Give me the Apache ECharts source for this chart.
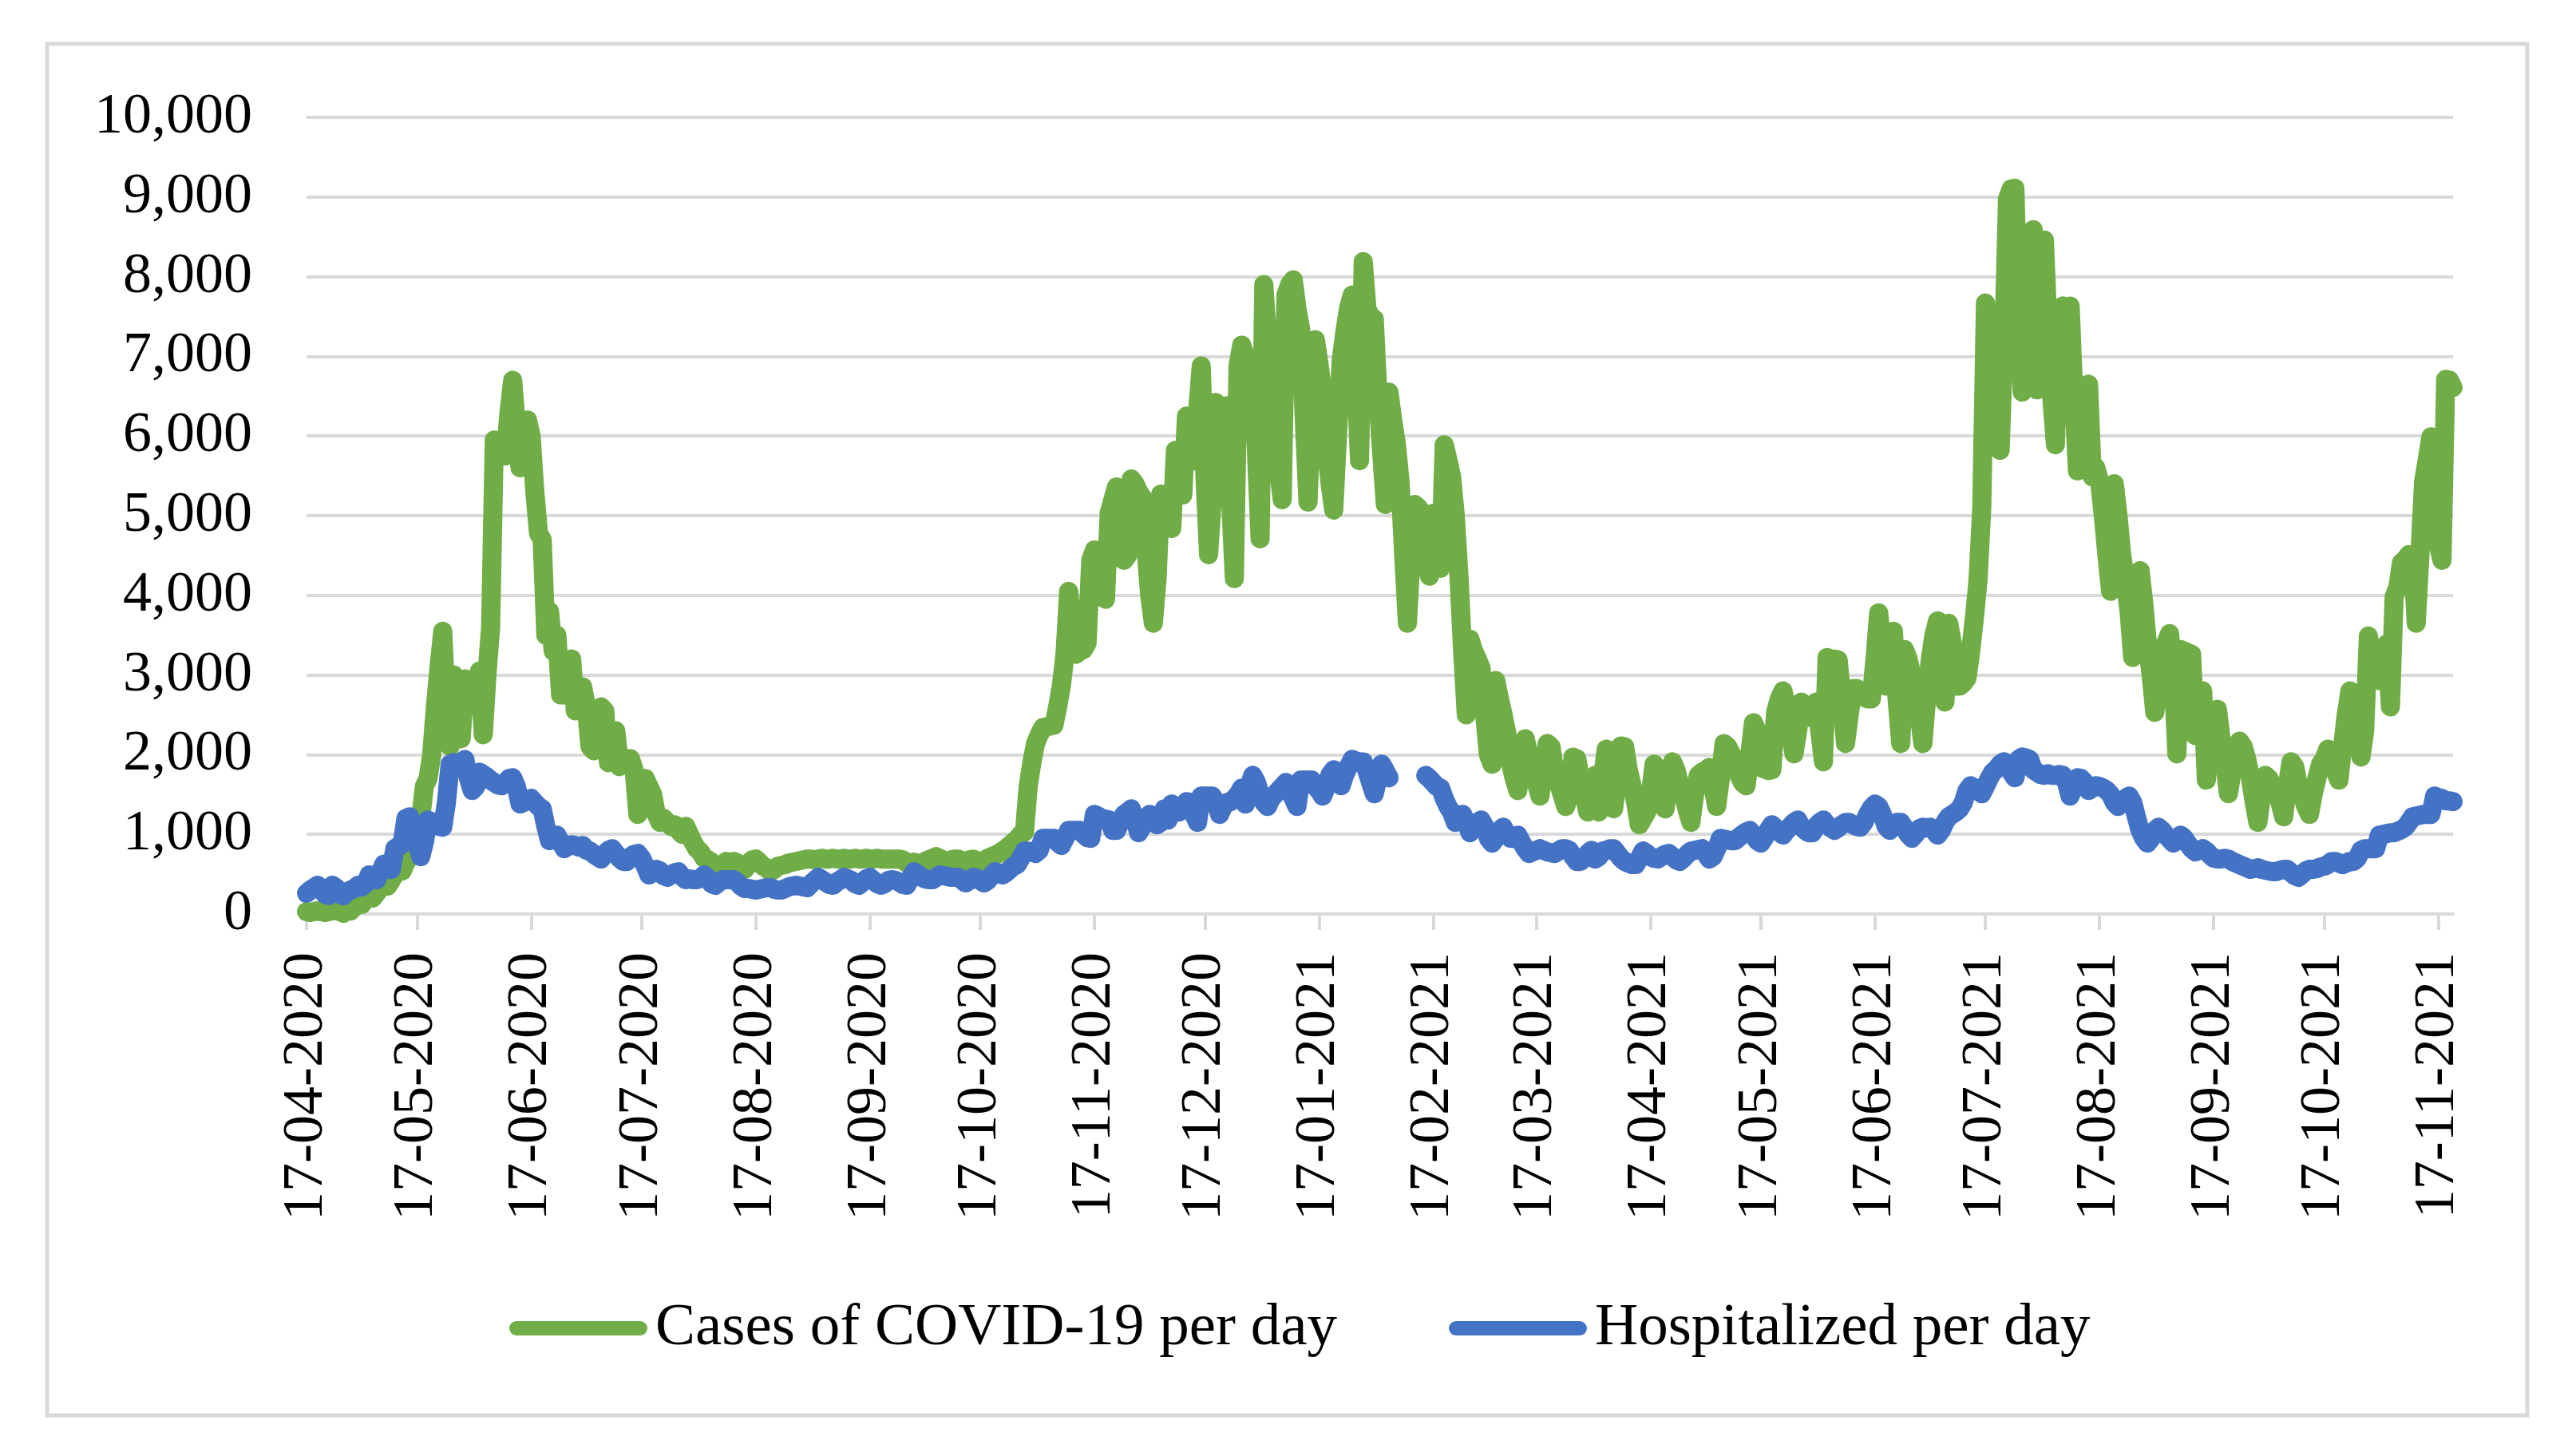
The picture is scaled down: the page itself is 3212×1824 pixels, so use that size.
<!DOCTYPE html>
<html>
<head>
<meta charset="utf-8">
<script src="https://cdn.jsdelivr.net/npm/echarts@6/dist/echarts.min.js"></script>
<style>
html,body{margin:0;padding:0;background:#fff;}
#chart{width:3212px;height:1824px;}
</style>
</head>
<body>
<div id="chart"></div>
<script>
// Series names
const seriesNames = ['Cases of COVID-19 per day', 'Hospitalized per day'];

// First day of the daily series (17-04-2020); one value per day
const startDate = [2020, 4, 17];

// X-axis tick labels (monthly, on the 17th)
const tickLabels = ['17-04-2020','17-05-2020','17-06-2020','17-07-2020','17-08-2020','17-09-2020','17-10-2020','17-11-2020','17-12-2020','17-01-2021','17-02-2021','17-03-2021','17-04-2021','17-05-2021','17-06-2021','17-07-2021','17-08-2021','17-09-2021','17-10-2021','17-11-2021'];

// Y-axis ticks
const yTicks = [0,1000,2000,3000,4000,5000,6000,7000,8000,9000,10000];

// Cases of COVID-19 per day
const casesPerDay = [
30,20,30,40,30,20,30,40,50,30,
10,60,40,90,150,120,180,
220,200,260,330,380,350,420,
500,560,540,650,720,800,1000,
1200,1600,1700,2000,2600,3100,3550,
2500,2100,3000,2600,2200,2950,2900,
2750,2600,3050,2250,3000,3600,5950,
5850,5800,5750,6300,6700,6100,5600,
5800,6200,6000,5300,4780,4700,3500,
3800,3300,3500,2750,2750,3050,3200,
2550,2700,2850,2600,2100,2050,2200,
2600,2550,1900,2250,2300,1850,1900,
1950,1950,1800,1250,1450,1700,1600,
1500,1250,1150,1200,1150,1100,1120,
1050,1000,1100,1000,900,820,780,
700,680,650,600,580,620,660,
650,660,
640,600,560,620,680,690,650,
600,580,530,560,600,610,620,
640,650,660,670,680,690,690,
680,690,700,690,690,700,690,
690,700,690,690,700,690,690,
700,690,690,700,690,690,690,
690,690,690,680,640,620,650,
640,630,660,680,700,720,700,
660,650,680,690,690,660,650,
680,690,670,660,660,700,720,
740,760,790,820,860,900,940,
1000,1030,1600,1900,2140,2250,2340,
2350,2360,2370,2600,2860,3260,4050,
3600,3260,3300,3320,3400,4440,4570,
4500,4300,3950,5030,5200,5360,5000,
4440,4500,5460,5400,5300,5230,4600,
4000,3650,4200,5270,5170,
5000,4840,5820,5500,5260,6250,5700,
5690,6300,6880,5500,4510,5200,6420,
5960,6200,6380,5200,4210,6880,7140,
7000,6950,6880,5800,4710,7900,7200,
6550,6000,5600,5200,7770,7900,7960,
7600,7340,6200,5170,6300,7210,6900,
6550,5900,5400,5070,6000,6940,7300,
7600,7770,6800,5690,8190,7600,7500,
7470,6500,5800,5140,6550,6200,5900,
5430,4500,3650,4500,5140,5100,5030,
4600,4240,5030,4700,4340,5890,5700,
5490,5000,4240,3300,2500,3450,3300,
3200,3090,2500,2000,1880,2930,2700,
2500,2270,1900,1700,1550,2000,2200,
2000,1800,1650,1480,1800,2140,2100,
1800,1650,1500,1350,1500,1970,1950,
1700,1500,1280,1500,1740,
1280,1700,2070,2040,1320,1700,2110,
2100,1810,1610,1400,1120,1200,1280,
1500,1880,1700,1500,1320,1700,1910,
1800,1610,1500,1300,1150,1500,1740,
1780,1800,1840,1600,1350,1700,2140,
2100,2010,1900,1750,1650,1610,2000,
2400,2300,1840,1820,1800,1810,2530,
2700,2800,2600,2300,2010,2300,2660,
2550,2470,2600,2660,2300,1910,3220,
3200,3200,3190,2700,2140,2500,2830,
2830,2800,2720,2700,2700,3200,3780,
3300,2860,3300,3550,2700,2140,3320,
3200,3000,2930,2500,2140,2700,3190,
3500,3680,3200,2660,3650,3400,2860,
2860,2900,2960,3300,3720,4200,5100,
7670,7400,6610,6000,5820,7200,8980,
9100,9110,7410,6550,7540,
8000,8590,6580,7500,8460,7340,6500,
5890,7600,7630,7600,7630,6500,5560,
6000,6300,6650,5490,5600,5430,5000,
4500,4050,5400,5000,4510,4200,3800,
3220,3800,4310,3900,3390,3000,2530,
2900,3300,3400,3520,3000,2010,3320,
3300,3280,3260,2240,2600,2800,1680,
2200,2400,2570,2200,1900,1510,1800,
2000,2170,2100,1940,1700,1400,1150,
1500,1740,1700,1600,1580,1400,1220,
1600,1910,1850,1610,1500,1350,1250,
1500,1700,1880,1950,2070,1900,1800,
1680,2100,2500,2800,2600,2340,1970,
2300,3490,3200,3000,2930,3200,3390,
2600,3980,4100,4410,4450,4510,4500,
3650,4500,5430,5700,5990,5000,4640,
4440,6710,6700,6610
];

// Hospitalized per day (null = no data)
const hospitalizedPerDay = [
260,300,330,360,300,250,230,
360,330,250,230,280,300,320,
360,340,380,490,450,430,520,
625,580,560,820,850,880,1200,
1220,1100,900,720,900,1180,1150,
1150,1100,1090,1400,1880,1900,1850,
1900,1940,1700,1550,1600,1780,1750,
1720,1680,1650,1620,1610,1650,1700,
1710,1600,1380,1400,1430,1450,1400,
1350,1320,1100,920,950,990,900,
820,850,870,860,840,860,800,
790,750,720,690,750,800,820,
760,700,660,660,720,750,760,
700,600,490,520,560,540,480,
460,490,520,530,470,430,440,
430,430,450,490,450,380,360,
400,430,430,430,430,400,350,
320,320,310,300,310,320,330,
330,310,300,300,320,340,350,
360,350,340,330,380,420,460,
430,400,370,360,400,430,460,
440,420,380,360,400,440,460,
420,380,360,380,420,430,420,
400,370,360,450,530,500,460,
440,430,430,460,490,480,470,
460,460,460,430,390,420,460,
450,420,390,420,480,530,510,
490,520,560,600,620,700,790,
790,780,760,800,950,950,950,
950,900,860,950,1050,1050,1050,
1050,1000,960,950,1250,1230,1200,
1190,1180,1050,1050,1150,1250,1280,
1320,1200,1020,1100,1200,1250,1180,
1120,1150,1320,1180,1380,1350,1280,
1350,1410,1400,1250,1150,1480,1480,
1480,1480,1400,1250,1350,1400,1410,
1450,1500,1580,1380,1600,1740,1650,
1500,1400,1350,1450,1500,1550,1600,
1650,1550,1450,1350,1680,1680,1680,
1680,1600,1550,1480,1600,1750,1810,
1750,1610,1750,1850,1940,1920,1910,
1910,1800,1650,1510,1700,1880,1800,
1710,
null,null,null,null,null,null,null,null,null,
1740,1700,1650,1600,1580,1450,1350,
1280,1150,1200,1250,1150,1020,1100,
1150,1180,1100,950,890,950,1050,
1090,1000,950,950,990,900,820,
760,780,800,820,800,780,770,
760,790,820,820,800,720,660,
660,700,760,800,690,720,790,
800,820,820,760,700,660,640,
620,620,700,790,760,720,700,
690,720,750,760,720,680,660,
700,750,790,800,810,820,760,
690,720,820,950,940,930,920,
920,960,1000,1030,1050,990,920,
890,960,1050,1120,1080,1030,990,
1050,1100,1150,1180,1100,1050,1020,
1020,1100,1150,1180,1120,1080,1050,
1080,1120,1150,1150,1120,1100,1090,
1150,1250,1330,1380,1350,1250,1100,
1050,1100,1150,1150,1080,1000,950,
1000,1070,1090,1080,1090,1050,990,
1050,1150,1220,1250,1280,1320,1400,
1550,1610,1580,1550,1510,1600,1700,
1780,1820,1880,1910,1850,1780,1710,
1940,1970,1960,1940,1810,1780,1750,
1740,1760,1740,1740,1750,1740,1650,
1480,1600,1710,1700,1650,1550,1580,
1610,1600,1580,1550,1500,1400,1350,
1400,1450,1480,1400,1220,1050,950,
890,950,1050,1090,1050,990,940,
890,920,990,950,880,820,780,
800,820,790,740,700,690,690,
700,690,660,640,620,600,580,
560,570,580,560,550,540,530,
530,550,560,560,520,480,460,
500,540,560,560,570,590,600,
620,660,660,640,620,640,660,
660,700,800,820,820,820,820,
990,1000,1010,1020,1020,1040,1060,
1090,1150,1220,1230,1240,1250,1250,
1250,1480,1460,1450,1420,1420,1410
];

// Daily date categories (dd-mm-yyyy)
const nDays = Math.max(casesPerDay.length, hospitalizedPerDay.length);
const categories = [];
for (let i = 0; i < nDays; i++) {
  const d = new Date(Date.UTC(startDate[0], startDate[1] - 1, startDate[2] + i));
  const dd = String(d.getUTCDate()).padStart(2, '0');
  const mm = String(d.getUTCMonth() + 1).padStart(2, '0');
  categories.push(dd + '-' + mm + '-' + d.getUTCFullYear());
}

const FONT = 'Liberation Serif';
const GRID_GRAY = '#d9d9d9';
const isTick = (idx, val) => tickLabels.indexOf(val) >= 0;
const LEGEND_ICON = 'path://M9,0 L164,0 A9,9 0 0 1 164,18 L9,18 A9,9 0 0 1 9,0 Z';

const chart = echarts.init(document.getElementById('chart'), null, {renderer: 'canvas'});
chart.setOption({
  animation: false,
  backgroundColor: '#ffffff',
  graphic: [{
    type: 'rect',
    shape: {x: 59, y: 55, width: 3107, height: 1718},
    style: {fill: 'none', stroke: GRID_GRAY, lineWidth: 5},
    silent: true,
    z: -1
  }],
  grid: {left: 384, top: 147, width: 2689, height: 998, containLabel: false},
  xAxis: {
    type: 'category',
    data: categories,
    boundaryGap: false,
    axisLine: {show: true, lineStyle: {color: GRID_GRAY, width: 4}},
    axisTick: {show: true, interval: isTick, length: 20, lineStyle: {color: GRID_GRAY, width: 4}},
    axisLabel: {
      show: true, interval: isTick, rotate: 90, margin: 48,
      color: '#000', fontFamily: FONT, fontSize: 72
    },
    splitLine: {show: false}
  },
  yAxis: {
    type: 'value',
    min: yTicks[0],
    max: yTicks[yTicks.length - 1],
    interval: yTicks[1] - yTicks[0],
    axisLine: {show: false},
    axisTick: {show: false},
    axisLabel: {
      margin: 68, color: '#000', fontFamily: FONT, fontSize: 72,
      formatter: v => v.toLocaleString('en-US')
    },
    splitLine: {show: true, lineStyle: {color: GRID_GRAY, width: 4}}
  },
  legend: {
    left: 633, top: 1617,
    itemWidth: 173, itemHeight: 18, itemGap: 140,
    textStyle: {color: '#000', fontFamily: FONT, fontSize: 75, lineHeight: 84, padding: [0, 0, 0, 5]},
    data: [
      {name: seriesNames[0], icon: LEGEND_ICON},
      {name: seriesNames[1], icon: LEGEND_ICON}
    ]
  },
  series: [
    {
      name: seriesNames[0], type: 'line', data: casesPerDay,
      showSymbol: false, symbol: 'none', connectNulls: false,
      itemStyle: {color: '#70AD47'},
      lineStyle: {color: '#70AD47', width: 24, cap: 'round', join: 'round'},
      z: 2
    },
    {
      name: seriesNames[1], type: 'line', data: hospitalizedPerDay,
      showSymbol: false, symbol: 'none', connectNulls: false,
      itemStyle: {color: '#4472C4'},
      lineStyle: {color: '#4472C4', width: 24, cap: 'round', join: 'round'},
      z: 3
    }
  ]
});
</script>
</body>
</html>
